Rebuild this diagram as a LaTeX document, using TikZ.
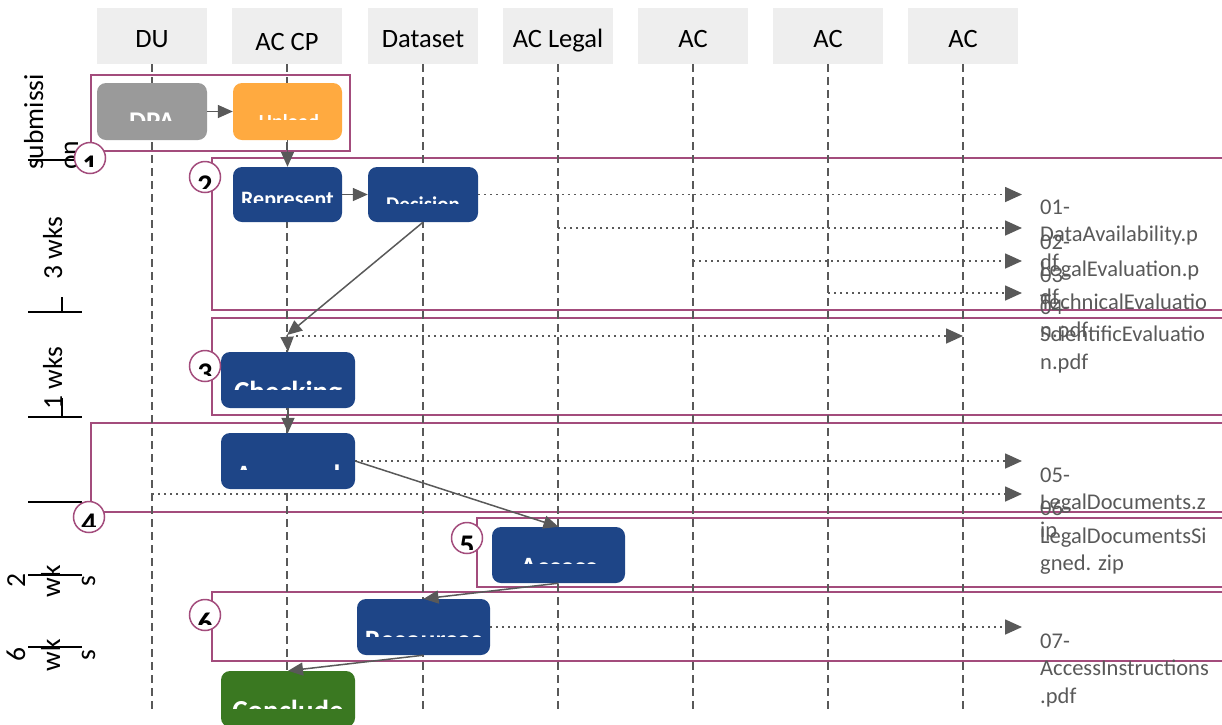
\documentclass[tikz,border=0pt]{standalone}
\usepackage{fontspec}
\setmainfont{Carlito}
\usetikzlibrary{arrows.meta,calc}
\definecolor{plum}{HTML}{A34C7C}
\definecolor{hdrgray}{HTML}{EEEEEE}
\definecolor{lg}{HTML}{595959}
\definecolor{tblue}{HTML}{1E4587}
\definecolor{torange}{HTML}{FFAA40}
\definecolor{tgray}{HTML}{9A9A9A}
\definecolor{tgreen}{HTML}{3A7821}
\newcommand\myfs[2]{\fontsize{#1pt}{#2pt}\selectfont}
\begin{document}
\begin{tikzpicture}[x=1pt,y=-1pt,
  hdr/.style={fill=hdrgray, draw=none, minimum width=110pt, minimum height=56pt, inner sep=0},
  hdrt/.style={anchor=base, inner sep=0, font=\myfs{26.5}{32}},
  life/.style={draw=lg, line width=1.5pt, dash pattern=on 8pt off 5pt},
  phase/.style={draw=plum, line width=1.8pt},
  task/.style={rounded corners=9pt, minimum height=56pt, inner sep=0, draw=none},
  tt/.style={text=white, inner sep=0, anchor=north},
  flow/.style={draw=lg, line width=1.5pt, -{Triangle[length=15pt,width=13pt]}},
  dotarrow/.style={draw=lg, line width=1.6pt, dash pattern=on 1.6pt off 4.4pt, -{Triangle[length=17pt,width=15pt]}},
  circ/.style={circle, draw=plum, fill=white, line width=1.5pt, minimum size=31pt, inner sep=0},
  digit/.style={anchor=north, inner sep=0, font=\bfseries\myfs{30}{34}},
  tl/.style={draw=black, line width=1.5pt},
  rot/.style={rotate=90, inner sep=0, font=\myfs{27.5}{34}},
  lab/.style={text=lg, align=left, anchor=north west, inner sep=0, font=\myfs{22.5}{27.5}}
]
\useasboundingbox (0,0) rectangle (1222,724);
\clip (0,0) rectangle (1222,724);

% headers
\node[hdr] (h1) at (152,36) {};
\node[hdr] (h2) at (287,36) {};
\node[hdr] (h3) at (423,36) {};
\node[hdr] (h4) at (558,36) {};
\node[hdr] (h5) at (693,36) {};
\node[hdr] (h6) at (828,36) {};
\node[hdr] (h7) at (963,36) {};
\node[hdrt] (h1t) at (152,47) {DU};
\node[hdrt] (h2t) at (287,50) {AC CP};
\node[hdrt] (h3t) at (423,47) {Dataset};
\node[hdrt] (h4t) at (558,47) {AC Legal};
\node[hdrt] (h5t) at (693,47) {AC};
\node[hdrt] (h6t) at (828,47) {AC};
\node[hdrt] (h7t) at (963,47) {AC};

% phase boxes
\draw[phase] (91,75) rectangle (350,151);
\draw[phase] (212,158) rectangle (1240,310);
\draw[phase] (212,318) rectangle (1240,415);
\draw[phase] (91,423) rectangle (1240,512);
\draw[phase] (477,518) rectangle (1240,587);
\draw[phase] (212,592) rectangle (1240,661);

% lifelines
\coordinate (e1) at (152,710);
\coordinate (e2) at (287,710);
\coordinate (e3) at (423,710);
\coordinate (e4) at (558,710);
\coordinate (e5) at (693,710);
\coordinate (e6) at (828,710);
\coordinate (e7) at (963,710);
\draw[life] (h1.south) -- (e1);
\draw[life] (h2.south) -- (e2);
\draw[life] (h3.south) -- (e3);
\draw[life] (h4.south) -- (e4);
\draw[life] (h5.south) -- (e5);
\draw[life] (h6.south) -- (e6);
\draw[life] (h7.south) -- (e7);

% task nodes
\node[task, fill=tgray, minimum width=110pt, minimum height=57pt] (dpa) at (152,111.5) {};
\node[task, fill=torange, minimum width=109pt, minimum height=57pt] (upl) at (287.5,111.5) {};
\node[task, fill=tblue, minimum width=109pt, minimum height=55pt] (rep) at (287.5,194.5) {};
\node[task, fill=tblue, minimum width=110pt, minimum height=55pt] (dec) at (423,194.5) {};
\node[task, fill=tblue, minimum width=134pt] (chk) at (288,380) {};
\node[task, fill=tblue, minimum width=134pt] (apr) at (288,461) {};
\node[task, fill=tblue, minimum width=133pt] (acc) at (558.5,555) {};
\node[task, fill=tblue, minimum width=133pt] (res) at (423.5,627) {};
\node[task, fill=tgreen, minimum width=134pt] (con) at (288,699) {};

% clipped task texts
\begin{scope}\clip (dpa.north west) rectangle ($(dpa.south east)+(0,-20)$);
\node[tt, font=\bfseries\myfs{27}{32}] (dpat) at (152,113) {DPA};\end{scope}
\begin{scope}\clip (upl.north west) rectangle ($(upl.south east)+(0,-21)$);
\node[tt, font=\bfseries\myfs{20}{24}] (uplt) at (289,114) {Upload};\end{scope}
\begin{scope}\clip (rep.north west) rectangle ($(rep.south east)+(0,-20)$);
\node[tt, font=\bfseries\myfs{22}{26}] (rept) at (287.5,192.5) {Represent};\end{scope}
\begin{scope}\clip (dec.north west) rectangle ($(dec.south east)+(0,-19)$);
\node[tt, font=\bfseries\myfs{21}{25}] (dect) at (423,197) {Decision};\end{scope}
\begin{scope}\clip (chk.north west) rectangle ($(chk.south east)+(0,-19)$);
\node[tt, font=\bfseries\myfs{29}{34}] (chkt) at (288,381) {Checking};\end{scope}
\begin{scope}\clip (apr.north west) rectangle ($(apr.south east)+(0,-20)$);
\node[tt, font=\bfseries\myfs{28}{33}] (aprt) at (288,465) {Approval};\end{scope}
\begin{scope}\clip (acc.north west) rectangle ($(acc.south east)+(0,-20)$);
\node[tt, font=\bfseries\myfs{28}{33}] (acct) at (558.5,558) {Access};\end{scope}
\begin{scope}\clip (res.north west) rectangle ($(res.south east)+(0,-19)$);
\node[tt, font=\bfseries\myfs{28}{33}] (rest) at (423.5,631) {Resources};\end{scope}
\begin{scope}\clip (con.north west) rectangle ($(con.south east)+(0,-19)$);
\node[tt, font=\bfseries\myfs{29}{34}] (cont) at (288,700) {Conclude};\end{scope}

% dotted artefact arrows
\coordinate (k3) at (287,335);
\coordinate (s2) at (558,228);
\coordinate (s3) at (693,261);
\coordinate (s4) at (828,293);
\coordinate (s5) at (296,336);
\coordinate (s7) at (152,494);
\coordinate (f1) at (1022,194.5);
\coordinate (f2) at (1022,228);
\coordinate (f3) at (1022,261);
\coordinate (f4) at (1022,293);
\coordinate (f5) at (963,336);
\coordinate (f6) at (1022,461);
\coordinate (f7) at (1022,494);
\coordinate (f8) at (1022,627);
\draw[dotarrow] (dec.east) -- (f1);
\draw[dotarrow] (s2) -- (f2);
\draw[dotarrow] (s3) -- (f3);
\draw[dotarrow] (s4) -- (f4);
\draw[dotarrow] (s5) -- (f5);
\draw[dotarrow] (apr.east) -- (f6);
\draw[dotarrow] (s7) -- (f7);
\draw[dotarrow] (res.east) -- (f8);

% solid flow arrows
\draw[flow] (dpa) -- (upl);
\draw[flow] (upl) -- (rep);
\draw[flow] (rep) -- (dec);
\draw[flow] (dec.south) -- (k3);
\draw[flow] (k3) -- (chk.north);
\draw[flow] (chk) -- (apr);
\draw[flow] (apr.east) -- (acc.north);
\draw[flow] (acc.south) -- (res.north);
\draw[flow] (res.south) -- (con.north);

% timeline
\draw[tl] (28,160) -- (76,160);
\draw[tl] (28,312) -- (82,312);
\draw[tl] (62,297) -- (62,312);
\draw[tl] (28,417) -- (82,417);
\draw[tl] (62,398) -- (62,417);
\draw[tl] (28,502) -- (82,502);
\draw[tl] (28,575) -- (82,575);
\draw[tl] (28,647) -- (82,647);
\node[rot, anchor=base west] (sub1) at (43,170) {submissi};
\node[rot, anchor=base west] (sub2) at (78,170) {on};
\node[rot, anchor=base] (w3) at (62,248) {3 wks};
\node[rot, anchor=base] (w1) at (62,378) {1 wks};
\node[rot, anchor=base] (w2a) at (25,581) {2};
\node[rot, anchor=base] (w2b) at (60,581) {wk};
\node[rot, anchor=base] (w2c) at (95,581) {s};
\node[rot, anchor=base] (w6a) at (25,655) {6};
\node[rot, anchor=base] (w6b) at (60,655) {wk};
\node[rot, anchor=base] (w6c) at (95,655) {s};

% phase circles
\node[circ] (c1) at (90,158) {};
\node[circ] (c2) at (205,177) {};
\node[circ] (c3) at (205,366) {};
\node[circ] (c4) at (89,517) {};
\node[circ] (c5) at (467,538) {};
\node[circ] (c6) at (205,615) {};
\begin{scope}\clip (90,158) circle [radius=14.5pt]; \clip (60,130) rectangle (120,166);
\node[digit] (d1) at (90,156) {1};\end{scope}
\begin{scope}\clip (205,177) circle [radius=14.5pt]; \clip (175,150) rectangle (235,188);
\node[digit] (d2) at (205,176) {2};\end{scope}
\begin{scope}\clip (205,366) circle [radius=14.5pt]; \clip (175,340) rectangle (235,375);
\node[digit] (d3) at (205,364) {3};\end{scope}
\begin{scope}\clip (89,517) circle [radius=14.5pt]; \clip (60,490) rectangle (120,526);
\node[digit] (d4) at (89,514) {4};\end{scope}
\begin{scope}\clip (467,538) circle [radius=14.5pt]; \clip (440,510) rectangle (500,549);
\node[digit] (d5) at (467,536) {5};\end{scope}
\begin{scope}\clip (205,615) circle [radius=14.5pt]; \clip (175,590) rectangle (235,624);
\node[digit] (d6) at (205,613) {6};\end{scope}

% artefact labels
\node[lab] (l1) at (1040,199.5) {01-\\DataAvailability.p\\df};
\node[lab] (l2) at (1040,234.5) {02-\\LegalEvaluation.p\\df};
\node[lab] (l3) at (1040,267.5) {03-\\TechnicalEvaluatio\\n.pdf};
\node[lab] (l4) at (1040,299.5) {04-\\ScientificEvaluatio\\n.pdf};
\node[lab] (l5) at (1040,467.5) {05-\\LegalDocuments.z\\ip};
\node[lab] (l6) at (1040,500.5) {06-\\LegalDocumentsSi\\gned. zip};
\node[lab] (l7) at (1040,633.5) {07-\\AccessInstructions\\.pdf};
\end{tikzpicture}
\end{document}
